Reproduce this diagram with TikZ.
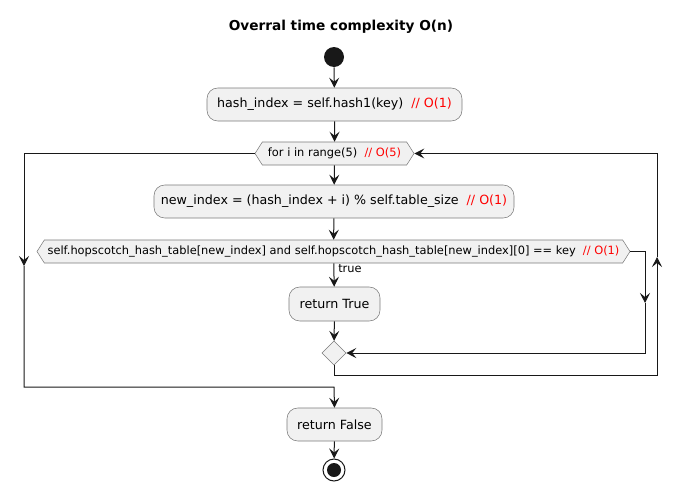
\documentclass[tikz,border=0pt]{standalone}
\usepackage{fontspec}
\setmainfont{DejaVu Sans}
\usetikzlibrary{shapes.symbols,shapes.geometric,arrows.meta}
\definecolor{boxfill}{HTML}{F1F1F1}
\definecolor{boxline}{HTML}{7A7A7A}
\definecolor{ln}{HTML}{181818}
\begin{document}
\begin{tikzpicture}[x=0.75pt,y=-0.75pt,
  tip/.style={-{Stealth[length=7.5pt,width=7.5pt,inset=3pt]}},
  act/.style={draw=boxline,fill=boxfill,rounded corners=8pt,inner sep=0pt,font=\fontsize{9.5}{11}\selectfont},
  hexa/.style={draw=boxline,fill=boxfill,signal,signal to=west and east,signal pointer angle=115,inner sep=0pt,font=\fontsize{8.55}{10}\selectfont},
  conn/.style={draw=ln,line width=0.75pt},
  cmt/.style={text=red}]
\useasboundingbox (0,0) rectangle (682,493);
\node[font=\bfseries\fontsize{10.25}{12}\selectfont] (title) at (341,27) {Overral time complexity O(n)};
\node[circle,fill=ln,minimum size=15pt,inner sep=0pt] (start) at (334,57) {};
\node[act,minimum width=191.25pt,minimum height=24.75pt] (hash) at (334.5,104.5) {hash\_index = self.hash1(key)\ \ \textcolor{red}{// O(1)}};
\node[hexa,minimum width=119.25pt,minimum height=17.25pt] (for) at (334.5,153.5) {for i in range(5)\ \ \textcolor{red}{// O(5)}};
\node[act,minimum width=270pt,minimum height=24.75pt] (new) at (334,201.5) {new\_index = (hash\_index + i) \% self.table\_size\ \ \textcolor{red}{// O(1)}};
\node[hexa,minimum width=444.75pt,minimum height=17.25pt] (cond) at (333.5,251.5) {self.hopscotch\_hash\_table[new\_index] and self.hopscotch\_hash\_table[new\_index][0] == key\ \ \textcolor{red}{// O(1)}};
\node[act,minimum width=68.25pt,minimum height=25.5pt] (rt) at (334.5,304) {return True};
\node[diamond,draw=boxline,fill=boxfill,minimum size=18pt,inner sep=0pt] (merge) at (334,353) {};
\node[act,minimum width=71.25pt,minimum height=24.75pt] (rf) at (334.5,424.5) {return False};
\node[circle,draw=ln,line width=0.75pt,fill=white,minimum size=16.5pt,inner sep=0pt] (end) at (334,470) {};
\node[circle,fill=ln,minimum size=10.5pt,inner sep=0pt] (endin) at (end.center) {};
\node[anchor=north west,inner sep=0pt,font=\fontsize{8.55}{10}\selectfont] (truelbl) at (338,264) {true};
% coordinates
\coordinate (r1) at (645,251.5);
\coordinate (r2) at (645,303);
\coordinate (r3) at (645,353);
\coordinate (b1) at (334,375);
\coordinate (b2) at (657,375);
\coordinate (b3) at (657,257);
\coordinate (b4) at (657,153.5);
\coordinate (l1) at (24,153.5);
\coordinate (l2) at (24,266);
\coordinate (l3) at (24,387);
\coordinate (l4) at (334,387);
% connectors
\draw[conn,tip] (start) -- (hash);
\draw[conn,tip] (hash) -- (for);
\draw[conn,tip] (for) -- (new);
\draw[conn,tip] (new) -- (cond);
\draw[conn,tip] (cond) -- (rt);
\draw[conn,tip] (rt) -- (merge);
\draw[conn,tip] (cond.east) -- (r1) -- (r2);
\draw[conn,tip] (r2) -- (r3) -- (merge.east);
\draw[conn,tip] (merge.south) -- (b1) -- (b2) -- (b3);
\draw[conn,tip] (b3) -- (b4) -- (for.east);
\draw[conn,tip] (for.west) -- (l1) -- (l2);
\draw[conn,tip] (l2) -- (l3) -- (l4) -- (rf.north);
\draw[conn,tip] (rf) -- (end);
\end{tikzpicture}
\end{document}
